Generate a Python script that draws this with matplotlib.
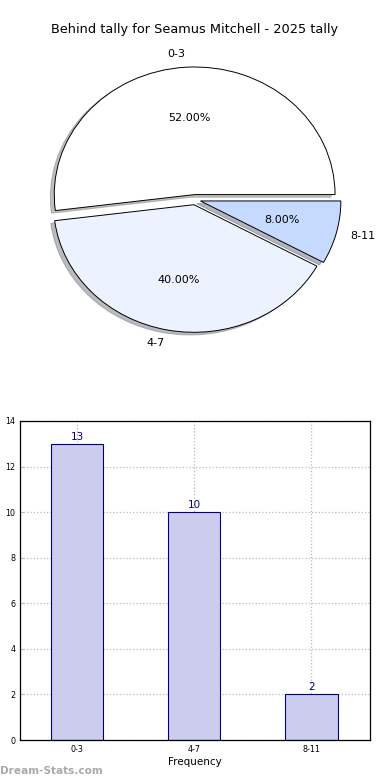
import matplotlib
matplotlib.use("Agg")
import matplotlib.pyplot as plt
import numpy as np

# data
categories = ['0-3', '4-7', '8-11']
counts = [13, 10, 2]
title = 'Behind tally for Seamus Mitchell - 2025 tally'
pie_colors = ['#ffffff', '#edf2ff', '#c6d9ff']

fig = plt.figure(figsize=(3.9, 7.8), dpi=100)

# pie chart (stretched, not circular)
w, h = 0.90, 0.409
ax1 = fig.add_axes([0.5 - w/2, 0.744 - h/2, w, h])
ax1.pie(counts, labels=categories, colors=pie_colors, explode=[0.04, 0.04, 0.04],
        autopct='%1.2f%%', pctdistance=0.6, labeldistance=1.1,
        shadow={'ox': -0.02, 'oy': -0.015, 'shade': 0.5},
        startangle=0, counterclock=True,
        wedgeprops={'edgecolor': 'black', 'linewidth': 0.7},
        textprops={'fontsize': 8})
ax1.set_aspect('auto')
ax1.set_xlim(-1.25, 1.25)
ax1.set_ylim(-1.25, 1.25)
fig.text(0.5, 1 - 30/780, title, ha='center', va='center', fontsize=9.3)

# bar chart
ax2 = fig.add_axes([20/390, 40/780, 350/390, 319/780])
x = np.arange(len(categories))
bars = ax2.bar(x, counts, width=0.445, color='#ccccee', edgecolor='#000080', linewidth=0.8, zorder=2)
for b, v in zip(bars, counts):
    ax2.text(b.get_x() + b.get_width()/2, v + 0.1, str(v), ha='center', va='bottom',
             color='#000080', fontsize=7.5)
ax2.set_xlim(-0.49, 2.5)
ax2.set_ylim(0, 14)
ax2.set_xticks(x)
ax2.set_xticklabels(categories)
ax2.set_yticks(range(0, 15, 2))
ax2.tick_params(labelsize=5.8, direction='in', length=3, color='#bbbbbb')
ax2.grid(True, linestyle=':', color='#bbbbbb', linewidth=0.9, zorder=0)
for s in ax2.spines.values():
    s.set_linewidth(0.9)
ax2.set_xlabel('Frequency', fontsize=7.5, labelpad=2)
ax2.set_ylabel('Distinct Hits', fontsize=7, labelpad=4)

fig.text(0.0, 1 - 771/780, 'Dream-Stats.com', ha='left', va='center', fontsize=7.6,
         color='#aaaaaa', fontweight='semibold')

fig.savefig('out.png', dpi=100)
